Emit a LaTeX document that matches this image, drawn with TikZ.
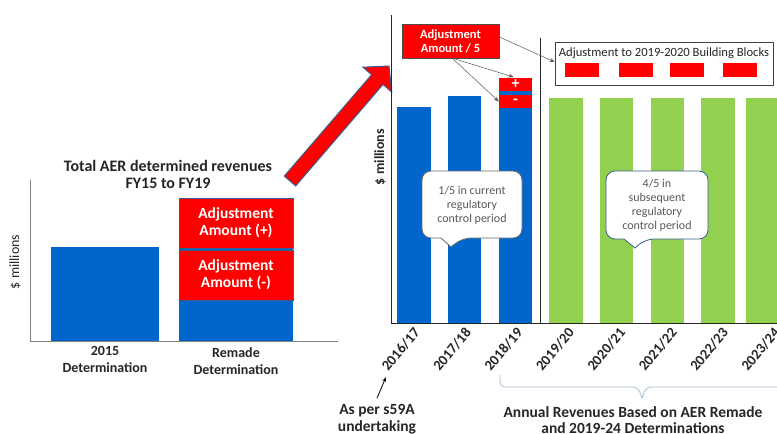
\documentclass[tikz,border=0pt]{standalone}
\usepackage{fontspec}
\setmainfont{Carlito}
\usetikzlibrary{arrows.meta}
\definecolor{barblue}{HTML}{0066CC}
\definecolor{bargreen}{HTML}{92D050}
\definecolor{adjred}{HTML}{FF0000}
\definecolor{steel}{HTML}{3A5F8F}
\definecolor{darktext}{HTML}{262626}
\definecolor{greytext}{HTML}{595959}
\definecolor{axisgrey}{HTML}{808080}
\definecolor{bracecol}{HTML}{A9BCD6}
\tikzset{
  redbox/.style={draw=steel, line width=0.8pt, fill=adjred, text=white, font=\bfseries\fontsize{15.5}{17}\selectfont, align=center, inner sep=0pt},
  smallred/.style={fill=adjred, draw=none, inner sep=0pt},
  yearlbl/.style={rotate=50, anchor=east, font=\bfseries\fontsize{14.5}{16}\selectfont, text=darktext, inner sep=0pt},
  lbl/.style={font=\bfseries\fontsize{14}{17}\selectfont, text=darktext, align=center, inner sep=0pt},
  biglbl/.style={font=\bfseries\fontsize{15.5}{16.5}\selectfont, text=darktext, align=center, inner sep=0pt},
  calltext/.style={font=\fontsize{12}{14}\selectfont, text=greytext, align=center, inner sep=0pt},
  thinarrow/.style={draw=greytext, line width=0.5pt, -{Stealth[length=5pt,width=4pt]}},
}
\begin{document}
\begin{tikzpicture}[x=1pt,y=-1pt]
\useasboundingbox (0,0) rectangle (777,434);
\fill[white] (0,0) rectangle (777,434);

% ---------- left chart ----------
\fill[barblue] (51,247) rectangle (159,341);
\fill[barblue] (179,248) rectangle (293,341);
\node[redbox, minimum width=114pt, minimum height=50pt] (adjplus) at (236,223) {Adjustment\\Amount (+)};
\node[redbox, minimum width=114pt, minimum height=50pt] (adjminus) at (236,275) {Adjustment\\Amount (-)};
\draw[axisgrey, line width=0.8pt] (30,180) -- (30,341) -- (338,341);
\node[font=\fontsize{14}{16}\selectfont, text=darktext, rotate=90, inner sep=0pt] (ylabL) at (15,262) {\$ millions};
\node[font=\bfseries\fontsize{16}{17}\selectfont, text=darktext, align=center, inner sep=0pt] (title) at (168,174) {Total AER determined revenues\\FY15 to FY19};
\node[lbl] (det2015) at (105,359) {2015\\Determination};
\node[lbl] (remade) at (236,361) {Remade\\Determination};

% ---------- big arrow ----------
\filldraw[fill=adjred, draw=steel, line width=1pt, line join=miter]
  (295.7,185.9) -- (383,84.5) -- (391.7,92) -- (389,66) -- (362.9,67.2) -- (371.6,74.7) -- (284.3,176.1) -- cycle;

% ---------- right chart bars ----------
\fill[barblue] (397,107) rectangle (431,323);
\fill[barblue] (448,96) rectangle (481,323);
\fill[barblue] (499,91) rectangle (532,323);
\node[smallred, minimum width=33pt, minimum height=13pt, text=white, font=\bfseries\fontsize{16}{16}\selectfont] (plus) at (515.5,84.5) {+};
\node[smallred, minimum width=33pt, minimum height=13pt, text=white, font=\bfseries\fontsize{16}{16}\selectfont] (minus) at (515.5,101.5) {-};
\foreach \x/\w in {549/34,600/33,651/33,701/34,746/40}{
  \fill[bargreen] (\x,98) rectangle ++(\w,225);
}
% axes
\draw[black!85, line width=0.8pt] (391,15) -- (391,323) -- (777,323);
\draw[black!85, line width=0.8pt] (540,38) -- (540,323);
\node[font=\bfseries\fontsize{14}{16}\selectfont, text=darktext, rotate=90, inner sep=0pt] (ylabR) at (380,157) {\$ millions};

% adjustment /5 box
\node[redbox, draw=black!70, minimum width=97pt, minimum height=34pt, font=\bfseries\fontsize{12.5}{14}\selectfont] (adj5) at (450.5,41) {Adjustment\\Amount / 5};

% building blocks box
\node[draw=black!75, line width=0.6pt, fill=white, minimum width=218pt, minimum height=43pt, inner sep=0pt] (bb) at (664,63.5) {};
\node[font=\fontsize{12.6}{14}\selectfont, text=darktext, inner sep=0pt] (bbtext) at (664,53) {Adjustment to 2019-2020 Building Blocks};
\foreach \x in {565,619,670,723}{
  \fill[adjred] (\x,63) rectangle ++(34,14);
}

% thin arrows
\coordinate (a5src) at (452,58);
\draw[thinarrow] (a5src) -- (513.5,77);
\draw[thinarrow] (a5src) -- (minus.west);
\draw[thinarrow] (adj5.east |- 0,37) -- (bb.west |- 0,62);

% callouts
\draw[draw=black!60, line width=0.8pt, fill=white, rounded corners=9pt]
  (422,171) -- (522,171) -- (522,238) -- (462,238) [sharp corners] -- (451,247) -- (441,238) [rounded corners=9pt] -- (422,238) -- cycle;
\node[calltext] (call1) at (472,205) {1/5 in current\\regulatory\\control period};
\draw[draw=steel, line width=0.8pt, fill=white, rounded corners=9pt]
  (606,171) -- (708,171) -- (708,239) -- (645,239) [sharp corners] -- (635,248) -- (624,239) [rounded corners=9pt] -- (606,239) -- cycle;
\node[calltext] (call2) at (657,205.5) {4/5 in\\subsequent\\regulatory\\control period};

% year labels
\foreach \lab [count=\i from 0] in {2016/17,2017/18,2018/19,2019/20,2020/21,2021/22,2022/23,2023/24}{
  \node[yearlbl] (yr\i) at ({417+51.4*\i},330) {\lab};
}

% s59A
\node[biglbl] (s59a) at (377,419) {As per s59A\\undertaking};
\coordinate (s59tip) at (386,377);
\draw[black, line width=0.8pt, -{Stealth[length=5pt,width=4pt]}] (s59a.north) ++(0,-6) -- (s59tip);

% brace
\draw[bracecol, line width=0.8pt, rounded corners=5pt] (500,375) -- (500,387) -- (638,387) -- (642,398);
\draw[bracecol, line width=0.8pt, rounded corners=5pt] (642,398) -- (646,387) -- (780,387);
\node[biglbl] (annual) at (633,420) {Annual Revenues Based on AER Remade\\and 2019-24 Determinations};
\end{tikzpicture}
\end{document}
